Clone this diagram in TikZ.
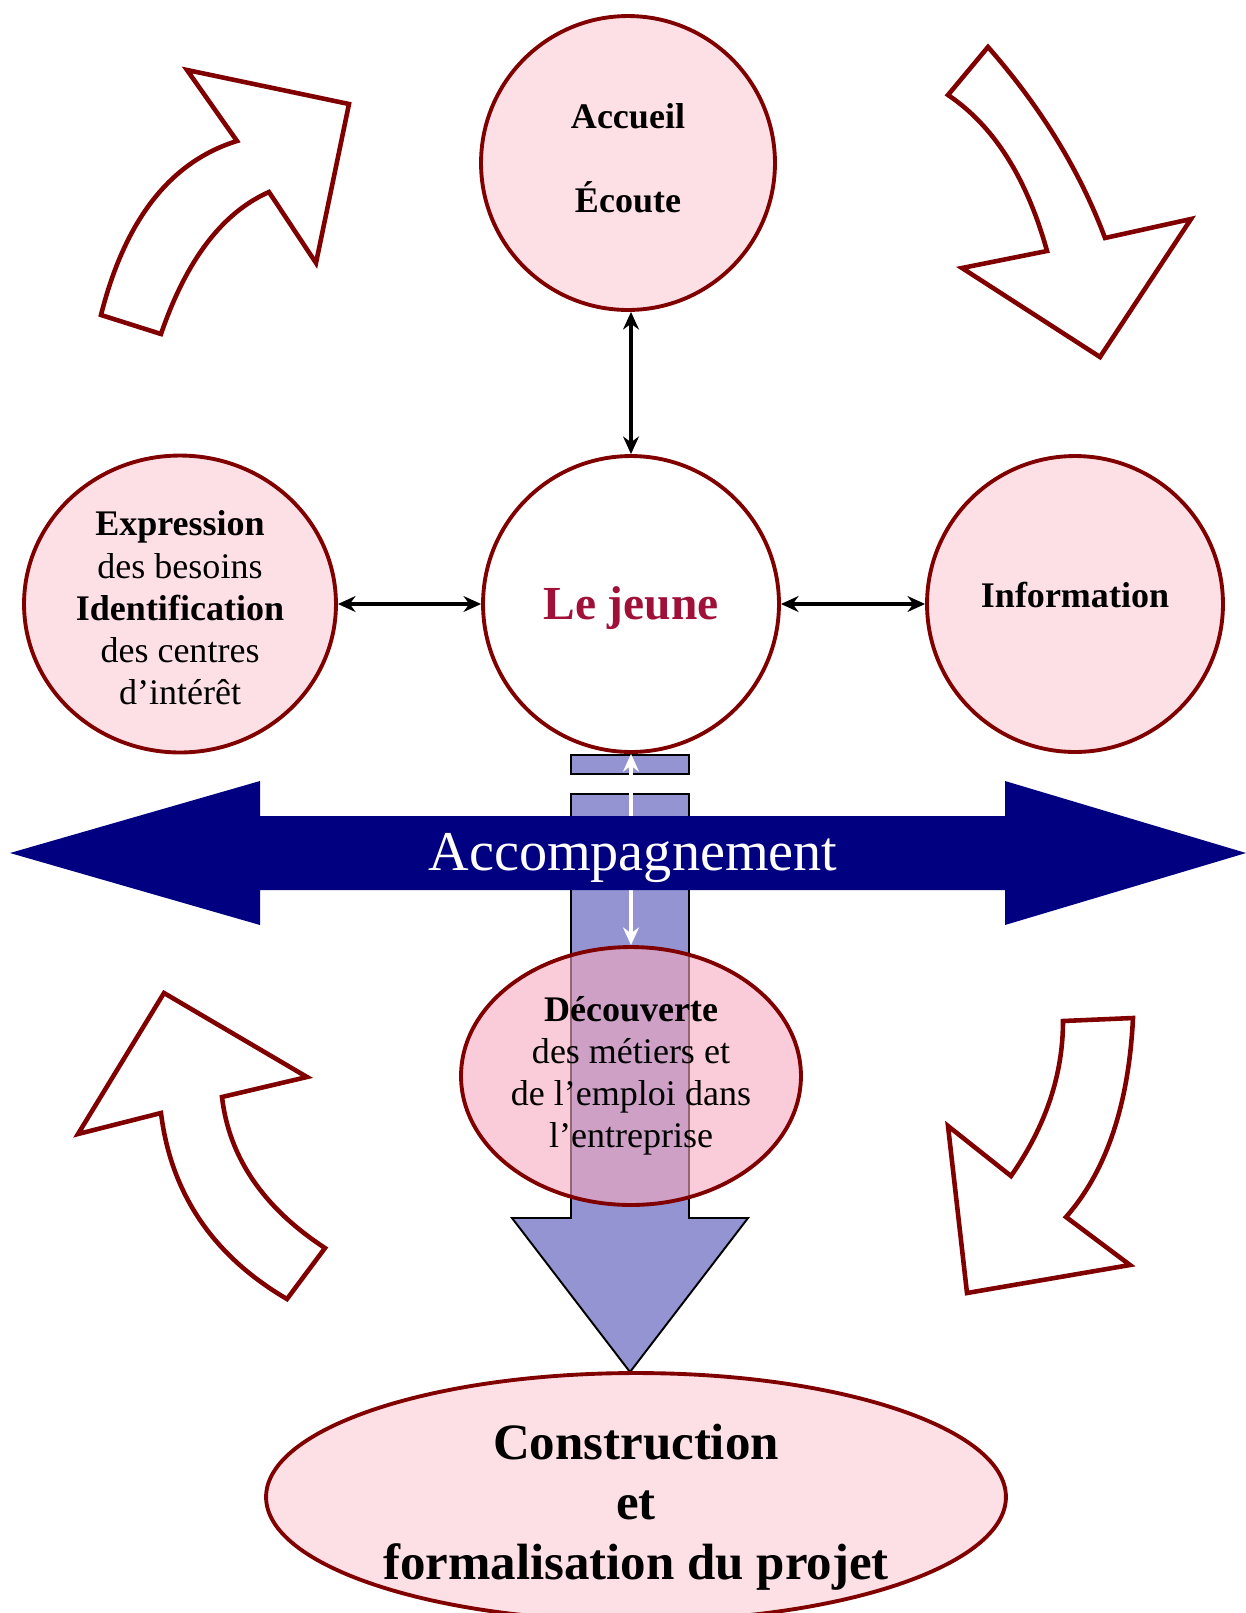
\documentclass[tikz,border=0pt]{standalone}
\usepackage{fontspec}
\setmainfont{Liberation Serif}
\usetikzlibrary{shapes.geometric,arrows.meta}
\definecolor{maroonR}{RGB}{128,0,0}
\definecolor{pinkF}{RGB}{253,224,230}
\definecolor{pinkD}{RGB}{246,168,190}
\definecolor{navyA}{RGB}{0,0,128}
\definecolor{blueP}{RGB}{148,148,210}
\definecolor{jeuneC}{RGB}{160,16,56}
\pgfdeclarelayer{bg}
\pgfsetlayers{bg,main}
\begin{document}
\begin{tikzpicture}[x=0.02cm,y=-0.02cm,
  bubble/.style={circle,draw=maroonR,line width=2.2pt,fill=pinkF,inner sep=0pt},
  carrow/.style={draw=maroonR,line width=2.6pt,fill=white,line join=miter},
  link/.style={black,line width=1.9pt,{Stealth[length=10pt,width=9pt]}-{Stealth[length=10pt,width=9pt]}},
  wlink/.style={white,line width=2.3pt,{Stealth[length=10pt,width=9pt]}-{Stealth[length=10pt,width=9pt]}},
  vbar/.style={draw=black,line width=1.1pt,fill=blueP},
  txt/.style={font=\fontsize{20.5}{24}\selectfont,align=center,inner sep=0pt}]
\useasboundingbox (0,0) rectangle (1246,1613);

% curved block arrows
\draw[carrow] (101,315) .. controls (125,219.7) and (170.3,161.7) .. (237,141) -- (187,70) -- (349,104) -- (316,263) -- (269,192) .. controls (222.3,212.7) and (186.3,260) .. (161,334) -- cycle;
\draw[carrow] (988,47) .. controls (1041,107.3) and (1080,171) .. (1105,238) -- (1191,219) -- (1100,357) -- (962,268) -- (1047,251) .. controls (1026.7,177.7) and (993.7,125.7) .. (948,95) -- cycle;
\draw[carrow] (164,993) -- (307,1077) -- (222,1097) .. controls (229,1157.3) and (263.3,1207.7) .. (325,1248) -- (287,1299) .. controls (213,1255.7) and (171,1193.7) .. (161,1113) -- (78,1134) -- cycle;
\draw[carrow] (1063,1021) -- (1133,1018) .. controls (1128.7,1105) and (1106.3,1171.3) .. (1066,1217) -- (1130,1265) -- (967,1293) -- (948,1126) -- (1011,1176) .. controls (1045.7,1126.3) and (1063,1074.7) .. (1063,1021) -- cycle;

% circles
\node[bubble,minimum size=5.88cm] (acc) at (628,163) {};
\node[bubble,fill=white,minimum size=5.92cm] (jeune) at (631,604) {};
\node[ellipse,draw=maroonR,line width=2.2pt,fill=pinkF,inner sep=0pt,minimum width=6.24cm,minimum height=5.94cm] (expr) at (180,604) {};
\node[bubble,minimum size=5.92cm] (info) at (1075,604) {};
\node[ellipse,draw=maroonR,line width=2.2pt,fill=pinkD,fill opacity=0.6,minimum width=6.8cm,minimum height=5.16cm,inner sep=0pt] (dec) at (631,1076) {};
\node[ellipse,draw=maroonR,line width=2.2pt,fill=pinkF,minimum width=14.8cm,minimum height=4.96cm,inner sep=0pt] (cons) at (636,1497) {};

% connectors
\draw[link] (jeune.north |- acc.south) -- (jeune.north);
\draw[link] (expr.east) -- (jeune.west);
\draw[link] (jeune.east) -- (info.west);

\begin{pgfonlayer}{bg}
\draw[vbar] (571,755) rectangle (689,774);
\draw[vbar] (571,794) -- (689,794) -- (689,1218) -- (748,1218) -- (630,1372) -- (512,1218) -- (571,1218) -- cycle;
\draw[wlink] (jeune.south) -- (dec.north);
\fill[navyA] (10,853) -- (260,781) -- (260,816) -- (1005,816) -- (1005,781) -- (1246,853) -- (1005,925) -- (1005,890) -- (260,890) -- (260,925) -- cycle;
\end{pgfonlayer}

% texts
\node[txt,font=\fontsize{20.5}{24}\selectfont\bfseries] (accT) at (628,158) {Accueil\\[24pt]Écoute};
\node[txt] (exprT) at (180,608) {\textbf{Expression}\\des besoins\\\textbf{Identification}\\des centres\\d’intérêt};
\node[txt,font=\fontsize{27}{30}\selectfont\bfseries,text=jeuneC] (jeuneT) at (631,608) {Le jeune};
\node[txt,font=\fontsize{20.5}{24}\selectfont\bfseries] (infoT) at (1075,595) {Information};
\node[txt] (decT) at (631,1076) {\textbf{Découverte}\\des métiers et\\de l’emploi dans\\l’entreprise};
\node[txt,font=\fontsize{32}{36}\selectfont,text=white] (accompT) at (633,858) {Accompagnement};
\node[txt,font=\fontsize{29}{34}\selectfont\bfseries] (consT) at (636,1507) {Construction\\et\\formalisation du projet};
\end{tikzpicture}
\end{document}
